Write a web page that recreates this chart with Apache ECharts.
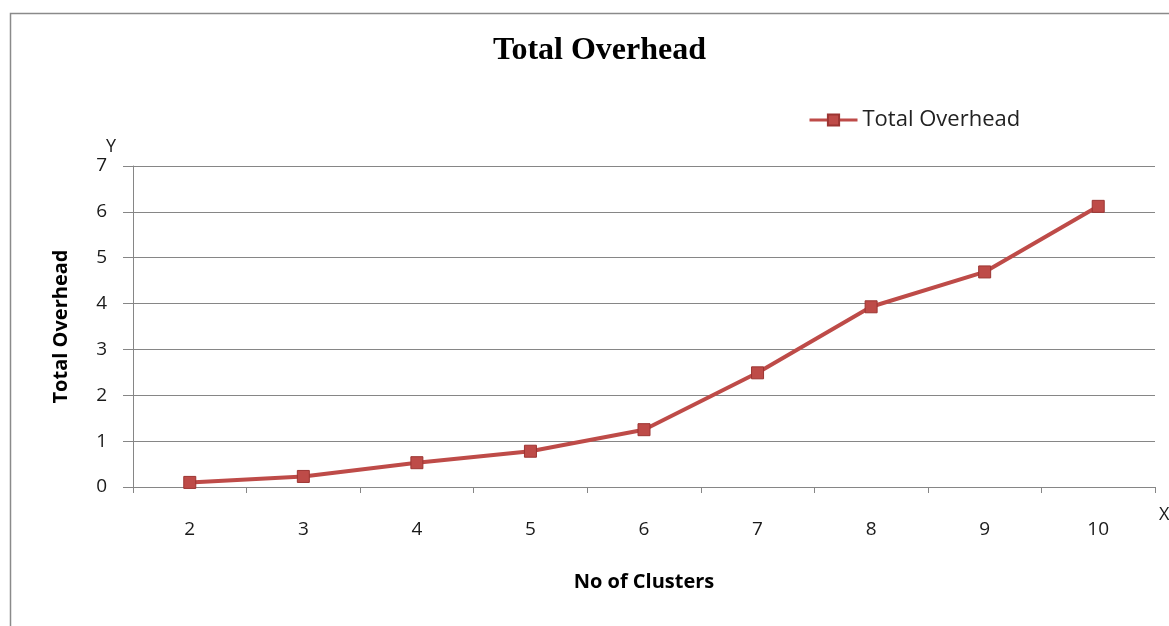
<!DOCTYPE html>
<html>
<head>
<meta charset="utf-8">
<script src="https://cdn.jsdelivr.net/npm/echarts@6/dist/echarts.min.js"></script>
<style>
html,body{margin:0;padding:0;background:#fff;}
#chart{width:1169px;height:626px;}
</style>
</head>
<body>
<div id="chart"></div>
<script>
const categories = ['2', '3', '4', '5', '6', '7', '8', '9', '10'];
const totalOverhead = [0.1, 0.23, 0.53, 0.78, 1.25, 2.49, 3.93, 4.69, 6.12];
const yTicks = [0, 1, 2, 3, 4, 5, 6, 7];
const seriesName = 'Total Overhead';

const chart = echarts.init(document.getElementById('chart'), null, {renderer: 'canvas'});
const labelFont = '"Open Sans", "Noto Sans", sans-serif';
chart.setOption({
  animation: false,
  backgroundColor: '#fff',
  title: {
    text: 'Total Overhead',
    left: 488,
    top: 30,
    textStyle: {fontFamily: '"Liberation Serif", serif', fontWeight: 'bold', fontSize: 32, color: '#000'}
  },
  legend: {
    data: [seriesName],
    left: 803,
    top: 104,
    itemWidth: 48,
    itemHeight: 14,
    itemGap: 10,
    lineStyle: {width: 3},
    textStyle: {fontFamily: labelFont, fontSize: 22, color: '#222'}
  },
  grid: {left: 133, right: 14, top: 166, bottom: 139, containLabel: false},
  xAxis: {
    type: 'category',
    data: categories,
    boundaryGap: true,
    name: 'No of Clusters',
    nameLocation: 'middle',
    nameGap: 85,
    nameTextStyle: {fontFamily: labelFont, fontWeight: 'bold', fontSize: 20, color: '#000'},
    axisLine: {lineStyle: {color: '#868686', width: 1}},
    axisTick: {show: true, inside: false, length: 6, alignWithLabel: false, lineStyle: {color: '#868686'}},
    axisLabel: {margin: 33, fontFamily: labelFont, fontSize: 19, color: '#1a1a1a'},
    splitLine: {show: false}
  },
  yAxis: {
    type: 'value',
    min: yTicks[0],
    max: yTicks[yTicks.length - 1],
    interval: 1,
    name: 'Total Overhead',
    nameLocation: 'middle',
    nameGap: 62,
    nameRotate: 90,
    nameTextStyle: {fontFamily: labelFont, fontWeight: 'bold', fontSize: 20, color: '#000'},
    axisLine: {show: true, lineStyle: {color: '#868686', width: 1}},
    axisTick: {show: true, inside: false, length: 10, lineStyle: {color: '#868686'}},
    axisLabel: {margin: 26, fontFamily: labelFont, fontSize: 19, color: '#1a1a1a'},
    splitLine: {show: true, lineStyle: {color: '#868686', width: 1}}
  },
  series: [{
    name: seriesName,
    type: 'line',
    data: totalOverhead,
    symbol: 'rect',
    symbolSize: 12,
    showAllSymbol: true,
    lineStyle: {color: '#BE4B48', width: 4},
    itemStyle: {color: '#BE4B48', borderColor: '#9C3532', borderWidth: 1}
  }],
  graphic: [
    {type: 'rect', left: 8, top: 11, shape: {width: 1300, height: 800}, style: {fill: 'none', stroke: '#8a8a8a', lineWidth: 1.5}, silent: true},
    {type: 'text', left: 106, top: 138, style: {text: 'Y', fontFamily: labelFont, fontSize: 18, fill: '#1a1a1a'}},
    {type: 'text', left: 1159, top: 506, style: {text: 'X', fontFamily: labelFont, fontSize: 18, fill: '#1a1a1a'}}
  ]
});
</script>
</body>
</html>
